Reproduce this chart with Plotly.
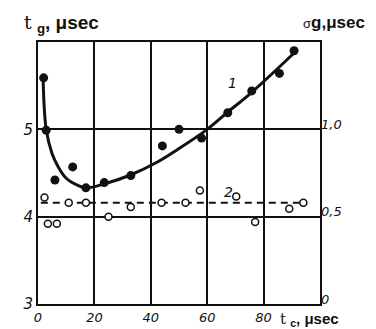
import plotly.graph_objects as go

# Series 1: t_g (left axis, usec) - filled points
t1_x = [2.0, 2.9, 6.0, 12.3, 17.0, 23.5, 32.9, 44.1, 50.0, 58.0, 67.3, 75.8, 85.6, 90.8]
t1_y = [5.59, 4.99, 4.42, 4.57, 4.33, 4.39, 4.47, 4.81, 5.00, 4.90, 5.19, 5.44, 5.64, 5.90]

# Fitted curve 1
c1_x = [1.8, 2.9, 5.0, 7.0, 10.0, 14.0, 17.0, 24.0, 33.0, 42.0, 50.0, 60.0, 67.0, 76.0, 91.0]
c1_y = [5.58, 5.00, 4.72, 4.58, 4.44, 4.36, 4.33, 4.38, 4.48, 4.62, 4.78, 5.00, 5.19, 5.43, 5.88]

# Series 2: sigma_g (right axis, usec) - open points
s2_x = [2.3, 3.5, 6.7, 10.9, 17.0, 25.0, 32.9, 43.8, 52.3, 57.4, 70.3, 77.0, 89.1, 94.1]
s2_y = [0.61, 0.46, 0.46, 0.58, 0.58, 0.50, 0.555, 0.58, 0.58, 0.65, 0.615, 0.47, 0.545, 0.58]

# Mean line of series 2
m2_x = [1.0, 94.1]
m2_y = [0.58, 0.58]

x_ticks = [0, 20, 40, 60, 80]
x_ticklabels = ["0", "20", "40", "60", "80"]
yl_ticks = [3, 4, 5]
yl_ticklabels = ["3", "4", "5"]
yr_ticks = [0, 0.5, 1.0]
yr_ticklabels = ["0", "0,5", "1,0"]

ink = "#111111"
tickfont = dict(family="DejaVu Sans", size=13, color=ink, style="italic")

fig = go.Figure()
fig.add_trace(go.Scatter(x=c1_x, y=c1_y, mode="lines",
                         line=dict(color=ink, width=3, shape="spline", smoothing=1.0),
                         hoverinfo="skip", showlegend=False))
fig.add_trace(go.Scatter(x=t1_x, y=t1_y, mode="markers",
                         marker=dict(color=ink, size=9, symbol="circle"),
                         showlegend=False))
fig.add_trace(go.Scatter(x=m2_x, y=m2_y, mode="lines", yaxis="y2",
                         line=dict(color=ink, width=2, dash="7px,5px"),
                         showlegend=False))
fig.add_trace(go.Scatter(x=s2_x, y=s2_y, mode="markers", yaxis="y2",
                         marker=dict(color="white", size=7, symbol="circle",
                                     line=dict(color=ink, width=1.5)),
                         showlegend=False))

fig.update_layout(
    width=376, height=329,
    margin=dict(l=30, r=64, t=34, b=31),
    paper_bgcolor="white", plot_bgcolor="white",
    xaxis=dict(range=[0, 100], tickvals=x_ticks, ticktext=x_ticklabels,
               showgrid=True, gridcolor=ink, gridwidth=1.5,
               showline=True, linecolor=ink, linewidth=2, mirror=True,
               zeroline=False, tickfont=tickfont, ticks=""),
    yaxis=dict(range=[3, 6], tickvals=yl_ticks, ticktext=yl_ticklabels,
               showgrid=True, gridcolor=ink, gridwidth=1.5,
               showline=True, linecolor=ink, linewidth=2, mirror=True,
               zeroline=False,
               tickfont=dict(family="DejaVu Sans", size=15, color=ink, style="italic"),
               ticks=""),
    yaxis2=dict(range=[0, 1.5], tickvals=yr_ticks, ticktext=yr_ticklabels,
                overlaying="y", side="right", showgrid=False, zeroline=False,
                showline=False, tickfont=tickfont, ticks="", ticklabelshift=-5),
)

serif_t = "<span style='font-family:DejaVu Serif;font-weight:normal'>t</span>"
fig.add_annotation(xref="paper", yref="paper", x=-0.055, y=1.0, yshift=19,
                   xanchor="left", yanchor="middle", showarrow=False,
                   text=serif_t + " <sub>g</sub>, μsec",
                   font=dict(family="Liberation Sans", size=19, color=ink, weight="bold"))
fig.add_annotation(xref="paper", yref="paper", x=0.932, y=1.0, yshift=20,
                   xanchor="left", yanchor="middle", showarrow=False,
                   text="<span style='font-size:13px;font-weight:normal'>σ</span>g,μsec",
                   font=dict(family="Liberation Sans", size=17, color=ink, weight="bold"))
fig.add_annotation(xref="paper", yref="paper", x=0.85, y=0, yshift=-15,
                   xanchor="left", yanchor="middle", showarrow=False,
                   text=serif_t + " <sub>c</sub>, μsec",
                   font=dict(family="Liberation Sans", size=15, color=ink, weight="bold"))
fig.add_annotation(x=68.8, y=5.53, showarrow=False, text="1",
                   font=dict(family="DejaVu Sans", size=14, color=ink, style="italic"))
fig.add_annotation(x=67.6, y=4.28, showarrow=False, text="2",
                   font=dict(family="DejaVu Sans", size=14, color=ink, style="italic"))

fig.write_html("out.html")
